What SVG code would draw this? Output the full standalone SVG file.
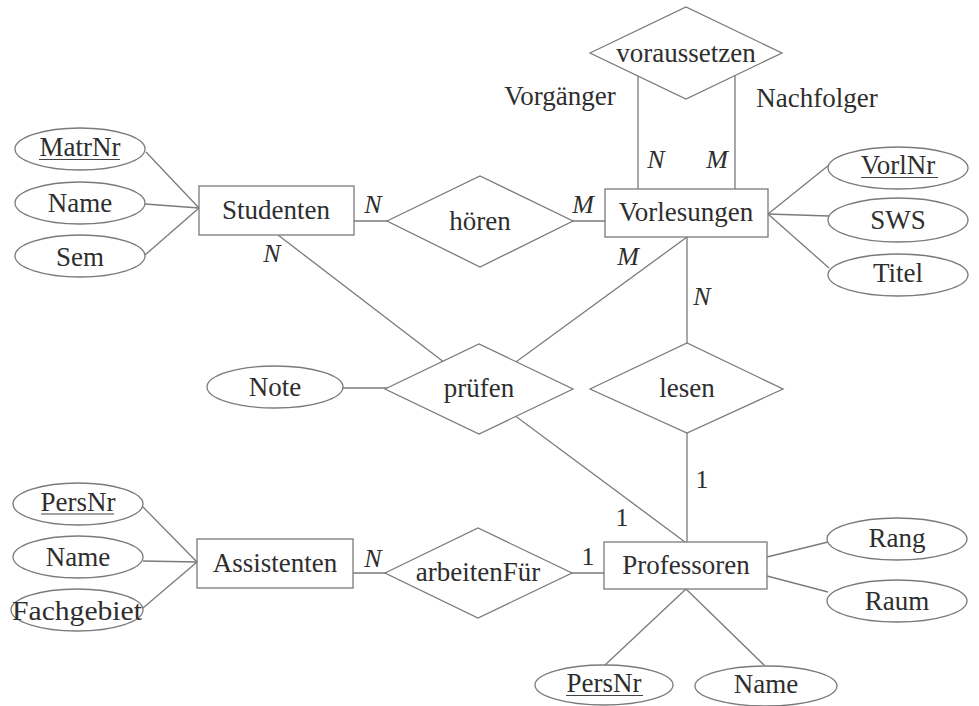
<svg xmlns="http://www.w3.org/2000/svg" width="979" height="706" viewBox="0 0 979 706">
  <style>
    .shape { fill: #ffffff; stroke: #7a7a7a; stroke-width: 1.3; }
    .edge { stroke: #7a7a7a; stroke-width: 1.3; fill: none; }
    .ul { stroke: #444444; stroke-width: 1.2; }
    text { font-family: "Liberation Serif", "Times New Roman", serif; font-size: 27px; fill: #2e2e2e; text-anchor: middle; }
    .card { font-style: italic; font-size: 26px; }
    .one { font-size: 26px; }
  </style>
  <rect x="0" y="0" width="979" height="706" fill="#ffffff"/>

  <!-- connectors: drawn first so node fills cover the ends -->
  <g id="connectors">
    <!-- Studenten attributes -->
    <line class="edge" x1="146" y1="152" x2="199" y2="208"/>
    <line class="edge" x1="145" y1="204" x2="199" y2="208"/>
    <line class="edge" x1="145" y1="255" x2="199" y2="208"/>
    <!-- Studenten - hören - Vorlesungen -->
    <line class="edge" x1="354" y1="221" x2="480" y2="221"/>
    <line class="edge" x1="480" y1="221" x2="605" y2="221"/>
    <!-- voraussetzen recursive -->
    <line class="edge" x1="638" y1="60" x2="638" y2="189"/>
    <line class="edge" x1="735" y1="60" x2="735" y2="189"/>
    <!-- Vorlesungen attributes -->
    <line class="edge" x1="768" y1="214" x2="829" y2="165"/>
    <line class="edge" x1="768" y1="214" x2="829" y2="216"/>
    <line class="edge" x1="768" y1="214" x2="829" y2="268"/>
    <!-- prüfen -->
    <line class="edge" x1="278" y1="235" x2="479" y2="389"/>
    <line class="edge" x1="687" y1="237" x2="479" y2="389"/>
    <line class="edge" x1="685" y1="542" x2="479" y2="389"/>
    <line class="edge" x1="343" y1="388" x2="479" y2="388"/>
    <!-- lesen -->
    <line class="edge" x1="687" y1="237" x2="687" y2="389"/>
    <line class="edge" x1="687" y1="389" x2="687" y2="542"/>
    <!-- Assistenten attributes -->
    <line class="edge" x1="143" y1="507" x2="197" y2="562"/>
    <line class="edge" x1="143" y1="561" x2="197" y2="562"/>
    <line class="edge" x1="143" y1="608" x2="197" y2="562"/>
    <!-- arbeitenFür -->
    <line class="edge" x1="353" y1="573" x2="478" y2="573"/>
    <line class="edge" x1="478" y1="573" x2="604" y2="573"/>
    <!-- Professoren attributes -->
    <line class="edge" x1="767" y1="557" x2="828" y2="542"/>
    <line class="edge" x1="767" y1="576" x2="828" y2="592"/>
    <line class="edge" x1="686" y1="589" x2="605" y2="665"/>
    <line class="edge" x1="686" y1="589" x2="765" y2="666"/>
  </g>

  <!-- entities -->
  <g id="studenten">
    <rect class="shape" x="199" y="186" width="155" height="49"/>
    <text x="276" y="219">Studenten</text>
  </g>
  <g id="vorlesungen">
    <rect class="shape" x="605" y="189" width="163" height="48"/>
    <text x="686" y="221">Vorlesungen</text>
  </g>
  <g id="professoren">
    <rect class="shape" x="604" y="542" width="163" height="47"/>
    <text x="686" y="574">Professoren</text>
  </g>
  <g id="assistenten">
    <rect class="shape" x="197" y="539" width="156" height="49"/>
    <text x="275" y="572">Assistenten</text>
  </g>

  <!-- relationships -->
  <g id="voraussetzen">
    <polygon class="shape" points="590,53 686,7 782,53 686,99"/>
    <text x="686" y="62">voraussetzen</text>
  </g>
  <g id="hoeren">
    <polygon class="shape" points="387,221 480,176 573,221 480,267"/>
    <text x="480" y="230">hören</text>
  </g>
  <g id="pruefen">
    <polygon class="shape" points="385,389 479,344 573,389 479,434"/>
    <text x="479" y="397">prüfen</text>
  </g>
  <g id="lesen">
    <polygon class="shape" points="590,389 687,343 783,389 687,433"/>
    <text x="687" y="397">lesen</text>
  </g>
  <g id="arbeitenFuer">
    <polygon class="shape" points="385,573 478,528 572,573 478,618"/>
    <text x="478" y="581">arbeitenFür</text>
  </g>

  <!-- attributes of Studenten -->
  <g id="attr-matrnr">
    <ellipse class="shape" cx="80" cy="149" rx="65" ry="21"/>
    <text x="80" y="156">MatrNr</text>
    <line class="ul" x1="39" y1="159.5" x2="120" y2="159.5"/>
  </g>
  <g id="attr-studenten-name">
    <ellipse class="shape" cx="80" cy="203" rx="65" ry="21"/>
    <text x="80" y="212">Name</text>
  </g>
  <g id="attr-sem">
    <ellipse class="shape" cx="80" cy="256" rx="65" ry="21"/>
    <text x="80" y="266">Sem</text>
  </g>

  <!-- attributes of Vorlesungen -->
  <g id="attr-vorlnr">
    <ellipse class="shape" cx="898" cy="168" rx="70" ry="21"/>
    <text x="898" y="174">VorlNr</text>
    <line class="ul" x1="861" y1="177.5" x2="938" y2="177.5"/>
  </g>
  <g id="attr-sws">
    <ellipse class="shape" cx="898" cy="220" rx="70" ry="22"/>
    <text x="898" y="229">SWS</text>
  </g>
  <g id="attr-titel">
    <ellipse class="shape" cx="898" cy="275" rx="70" ry="21"/>
    <text x="898" y="282">Titel</text>
  </g>

  <!-- attribute of prüfen -->
  <g id="attr-note">
    <ellipse class="shape" cx="275" cy="387" rx="68" ry="21"/>
    <text x="275" y="396">Note</text>
  </g>

  <!-- attributes of Assistenten -->
  <g id="attr-assistenten-persnr">
    <ellipse class="shape" cx="78" cy="504" rx="65" ry="21"/>
    <text x="78" y="511">PersNr</text>
    <line class="ul" x1="41" y1="514" x2="114" y2="514"/>
  </g>
  <g id="attr-assistenten-name">
    <ellipse class="shape" cx="78" cy="557" rx="65" ry="21"/>
    <text x="78" y="566">Name</text>
  </g>
  <g id="attr-fachgebiet">
    <ellipse class="shape" cx="77" cy="610" rx="66" ry="21"/>
    <text x="77" y="620" textLength="130" lengthAdjust="spacingAndGlyphs">Fachgebiet</text>
  </g>

  <!-- attributes of Professoren -->
  <g id="attr-rang">
    <ellipse class="shape" cx="897" cy="539" rx="70" ry="21"/>
    <text x="897" y="547">Rang</text>
  </g>
  <g id="attr-raum">
    <ellipse class="shape" cx="897" cy="601" rx="70" ry="21"/>
    <text x="897" y="610">Raum</text>
  </g>
  <g id="attr-professoren-persnr">
    <ellipse class="shape" cx="604" cy="685" rx="69" ry="20"/>
    <text x="604" y="692">PersNr</text>
    <line class="ul" x1="566" y1="695.5" x2="643" y2="695.5"/>
  </g>
  <g id="attr-professoren-name">
    <ellipse class="shape" cx="766" cy="686" rx="71" ry="20"/>
    <text x="766" y="693">Name</text>
  </g>

  <!-- role names and cardinalities -->
  <g id="labels">
    <text x="560" y="105">Vorgänger</text>
    <text x="817" y="107">Nachfolger</text>
    <text class="card" x="656" y="168">N</text>
    <text class="card" x="717" y="168">M</text>
    <text class="card" x="373" y="213">N</text>
    <text class="card" x="583" y="213">M</text>
    <text class="card" x="272" y="262">N</text>
    <text class="card" x="628" y="265">M</text>
    <text class="card" x="702" y="305">N</text>
    <text class="one" x="702" y="488">1</text>
    <text class="one" x="622" y="526">1</text>
    <text class="one" x="588" y="565">1</text>
    <text class="card" x="373" y="567">N</text>
  </g>
</svg>
